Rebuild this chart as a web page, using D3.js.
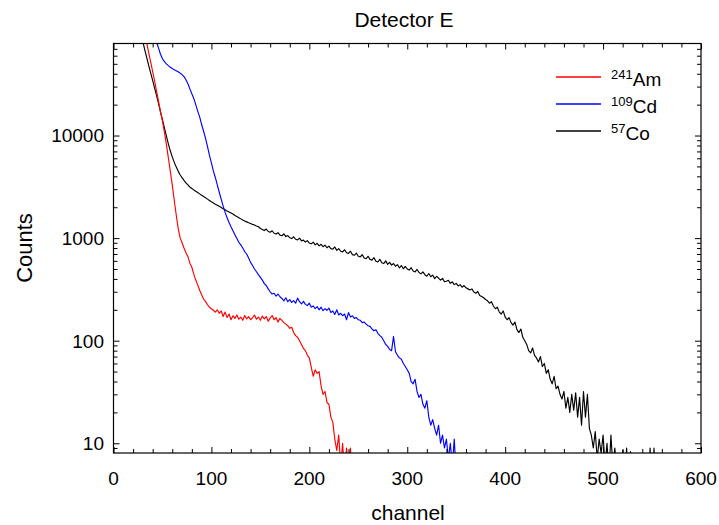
<!DOCTYPE html>
<html>
<head>
<meta charset="utf-8">
<script src="https://cdn.jsdelivr.net/npm/d3@7"></script>
<style>
  html, body { margin: 0; padding: 0; background: #fff; }
  svg { display: block; font-family: "Liberation Sans", Arial, sans-serif; }
</style>
</head>
<body>
<svg id="chart" width="719" height="525"></svg>
<script>
// Pulse-height spectra recorded by detector E, one value every 2 channels.
const channelStep = 2;

// 241Am spectrum, first channel and counts
const amStart = 32;
const amCounts = [
  100000, 79000, 64000, 52000, 42000, 34000, 27000, 21500, 17000, 13800,
  10800, 8200, 6100, 4500, 3300, 2350, 1700, 1250, 1010, 900,
  800, 720, 660, 570, 520, 445, 390, 350, 310, 280,
  255, 240, 225, 212, 205, 198, 190, 200, 185, 195,
  172, 190, 168, 182, 160, 175, 165, 178, 162, 170,
  158, 176, 163, 172, 160, 168, 178, 162, 170, 158,
  174, 163, 172, 155, 166, 176, 160, 168, 152, 165,
  158, 150, 145, 140, 132, 135, 120, 112, 108, 100,
  92, 84, 80, 72, 68, 55, 45, 52, 48, 50,
  36, 30, 32, 25, 24, 18, 16, 11, 8.5, 12,
  6, 10, 5, 9, 6, 9, 4
];

// 109Cd spectrum
const cdStart = 42;
const cdCounts = [
  100000, 82000, 71000, 62000, 56000, 52500, 50000, 48000, 46300, 45000,
  43800, 42800, 41800, 40600, 39300, 37500, 35000, 32000, 28500, 25500,
  23000, 20000, 17300, 15200, 12800, 11000, 9400, 7800, 6400, 5400,
  4500, 3900, 3300, 2800, 2400, 2050, 1780, 1580, 1420, 1290,
  1180, 1080, 990, 910, 860, 800, 740, 700, 640, 580,
  540, 500, 470, 440, 415, 390, 360, 345, 320, 300,
  285, 290, 272, 285, 268, 258, 245, 262, 240, 252,
  236, 246, 232, 260, 240, 228, 242, 226, 220, 232,
  212, 218, 205, 215, 200, 212, 196, 205, 198, 208,
  188, 195, 180, 200, 178, 185, 175, 182, 160, 188,
  170, 175, 165, 168, 160, 158, 150, 152, 145, 140,
  138, 130, 125, 128, 118, 112, 108, 100, 92, 88,
  82, 80, 110, 78, 72, 68, 66, 60, 56, 52,
  48, 40, 38, 42, 32, 28, 30, 24, 22, 26,
  18, 15, 17, 14, 12, 15, 10, 12, 9, 11,
  7, 10, 6, 11, 5, 4
];

// 57Co spectrum
const coStart = 28;
const coCounts = [
  100000, 82000, 68000, 57000, 48000, 40500, 34500, 29000, 24500, 20500,
  17000, 14300, 11900, 9900, 8300, 7100, 6200, 5500, 4950, 4500,
  4150, 3880, 3650, 3450, 3300, 3150, 3050, 2950, 2860, 2780,
  2700, 2620, 2540, 2470, 2400, 2330, 2260, 2200, 2140, 2090,
  2040, 1990, 1930, 1890, 1840, 1800, 1760, 1720, 1660, 1620,
  1580, 1540, 1500, 1470, 1440, 1410, 1390, 1360, 1340, 1310,
  1290, 1240, 1215, 1185, 1225, 1160, 1140, 1180, 1115, 1095,
  1130, 1070, 1055, 1100, 1035, 1060, 1010, 990, 1030, 975,
  960, 1000, 940, 955, 915, 945, 895, 880, 915, 860,
  890, 840, 870, 825, 855, 805, 835, 790, 780, 820,
  760, 790, 745, 735, 770, 720, 710, 745, 690, 680,
  715, 665, 655, 690, 640, 630, 665, 620, 610, 645,
  595, 585, 620, 575, 565, 600, 555, 580, 545, 565,
  532, 552, 512, 540, 502, 530, 500, 488, 515, 478,
  468, 495, 462, 448, 468, 440, 425, 452, 420, 436,
  403, 424, 408, 390, 405, 376, 380, 388, 362, 375,
  352, 362, 342, 352, 332, 345, 328, 320, 312, 320,
  298, 290, 302, 276, 270, 262, 252, 245, 232, 240,
  218, 205, 212, 190, 182, 195, 170, 160, 168, 150,
  142, 152, 128, 120, 130, 108, 100, 92, 80, 76,
  85, 72, 68, 62, 70, 56, 60, 48, 52, 42,
  38, 45, 34, 36, 30, 27, 32, 22, 28, 20,
  30, 21, 31, 18, 28, 15, 32, 18, 30, 14,
  12, 9, 13, 7, 11, 8, 12, 6, 10, 5,
  12, 6, 9, 5, 8, 4, 8.5, 4, 9, 4,
  8.3, 3, 3, 3, 3, 3, 3, 3, 3, 3,
  9, 3, 9, 3, 3, 3
];

const seriesNames = ["241Am", "109Cd", "57Co"];
const seriesColors = ["#ff0000", "#0000ff", "#000000"];

const xTickValues = [0, 100, 200, 300, 400, 500, 600];
const yTickValues = [10, 100, 1000, 10000];

// ---- layout ----
const svg = d3.select("#chart");
const plot = { left: 113.5, right: 701, top: 43.5, bottom: 453 };

const x = d3.scaleLinear().domain([0, 600]).range([plot.left, plot.right]);
const y = d3.scaleLog().domain([8.04, 78900]).range([plot.bottom, plot.top]);

const toPoints = (start, counts) =>
  counts.map((c, i) => ({ ch: start + i * channelStep, v: c }));

const series = [
  { name: seriesNames[0], color: seriesColors[0], pts: toPoints(amStart, amCounts) },
  { name: seriesNames[1], color: seriesColors[1], pts: toPoints(cdStart, cdCounts) },
  { name: seriesNames[2], color: seriesColors[2], pts: toPoints(coStart, coCounts) }
];

svg.append("defs").append("clipPath").attr("id", "plotClip")
  .append("rect")
  .attr("x", plot.left).attr("y", plot.top)
  .attr("width", plot.right - plot.left).attr("height", plot.bottom - plot.top);

// ---- spectra ----
const line = d3.line().x(d => x(d.ch)).y(d => y(d.v));
const g = svg.append("g").attr("clip-path", "url(#plotClip)");
// black underneath, then blue and red on top
[series[2], series[1], series[0]].forEach(s => {
  g.append("path")
    .datum(s.pts)
    .attr("d", line)
    .attr("fill", "none")
    .attr("stroke", s.color)
    .attr("stroke-width", 1.15)
    .attr("stroke-linejoin", "round");
});

// ---- axes (ticks pointing inward on all four sides) ----
const majorLen = 6, minorLen = 4;
const xMinor = d3.range(0, 601, 20).filter(v => v % 100 !== 0);
const yMinor = [];
[1, 10, 100, 1000, 10000].forEach(dec => {
  for (let k = 2; k <= 9; k++) {
    const v = dec * k;
    if (v >= y.domain()[0] && v <= y.domain()[1]) yMinor.push(v);
  }
});

function styleAxis(sel) {
  sel.select(".domain").remove();
  sel.selectAll("line").attr("stroke", "#000").attr("stroke-width", 1);
  sel.selectAll("text").remove();
}

// bottom
svg.append("g").attr("transform", `translate(0,${plot.bottom})`)
  .call(d3.axisTop(x).tickValues(xTickValues).tickSize(majorLen).tickFormat(""))
  .call(styleAxis);
svg.append("g").attr("transform", `translate(0,${plot.bottom})`)
  .call(d3.axisTop(x).tickValues(xMinor).tickSize(minorLen).tickFormat(""))
  .call(styleAxis);
// top
svg.append("g").attr("transform", `translate(0,${plot.top})`)
  .call(d3.axisBottom(x).tickValues(xTickValues).tickSize(majorLen).tickFormat(""))
  .call(styleAxis);
svg.append("g").attr("transform", `translate(0,${plot.top})`)
  .call(d3.axisBottom(x).tickValues(xMinor).tickSize(minorLen).tickFormat(""))
  .call(styleAxis);
// left
svg.append("g").attr("transform", `translate(${plot.left},0)`)
  .call(d3.axisRight(y).tickValues(yTickValues).tickSize(majorLen).tickFormat(""))
  .call(styleAxis);
svg.append("g").attr("transform", `translate(${plot.left},0)`)
  .call(d3.axisRight(y).tickValues(yMinor).tickSize(minorLen).tickFormat(""))
  .call(styleAxis);
// right
svg.append("g").attr("transform", `translate(${plot.right},0)`)
  .call(d3.axisLeft(y).tickValues(yTickValues).tickSize(majorLen).tickFormat(""))
  .call(styleAxis);
svg.append("g").attr("transform", `translate(${plot.right},0)`)
  .call(d3.axisLeft(y).tickValues(yMinor).tickSize(minorLen).tickFormat(""))
  .call(styleAxis);

// frame
svg.append("rect")
  .attr("x", plot.left).attr("y", plot.top)
  .attr("width", plot.right - plot.left).attr("height", plot.bottom - plot.top)
  .attr("fill", "none").attr("stroke", "#000").attr("stroke-width", 1.2);

// tick labels
svg.append("g").selectAll("text").data(xTickValues).join("text")
  .attr("x", d => x(d)).attr("y", 485)
  .attr("text-anchor", "middle").attr("font-size", 19).attr("fill", "#000")
  .text(d => d);
svg.append("g").selectAll("text").data(yTickValues).join("text")
  .attr("x", 104).attr("y", d => y(d)).attr("dy", "0.36em")
  .attr("text-anchor", "end").attr("font-size", 19).attr("fill", "#000")
  .text(d => d);

// titles
svg.append("text").attr("x", 404).attr("y", 27)
  .attr("text-anchor", "middle").attr("font-size", 21).text("Detector E");
svg.append("text").attr("x", 408).attr("y", 520)
  .attr("text-anchor", "middle").attr("font-size", 21).text("channel");
svg.append("text")
  .attr("transform", "translate(32,248) rotate(-90)")
  .attr("text-anchor", "middle").attr("font-size", 22).text("Counts");

// legend
const legend = svg.append("g");
series.forEach((s, i) => {
  const ly = 77 + i * 27;
  legend.append("line")
    .attr("x1", 556).attr("x2", 601).attr("y1", ly).attr("y2", ly)
    .attr("stroke", s.color).attr("stroke-width", 1.3);
  const m = s.name.match(/^(\d+)(.*)$/);
  const t = legend.append("text").attr("x", 611).attr("y", ly + 9)
    .attr("font-size", 19).attr("fill", "#000");
  t.append("tspan").attr("font-size", 13).attr("dy", -7).text(m[1]);
  t.append("tspan").attr("dy", 7).text(m[2]);
});
</script>
</body>
</html>
